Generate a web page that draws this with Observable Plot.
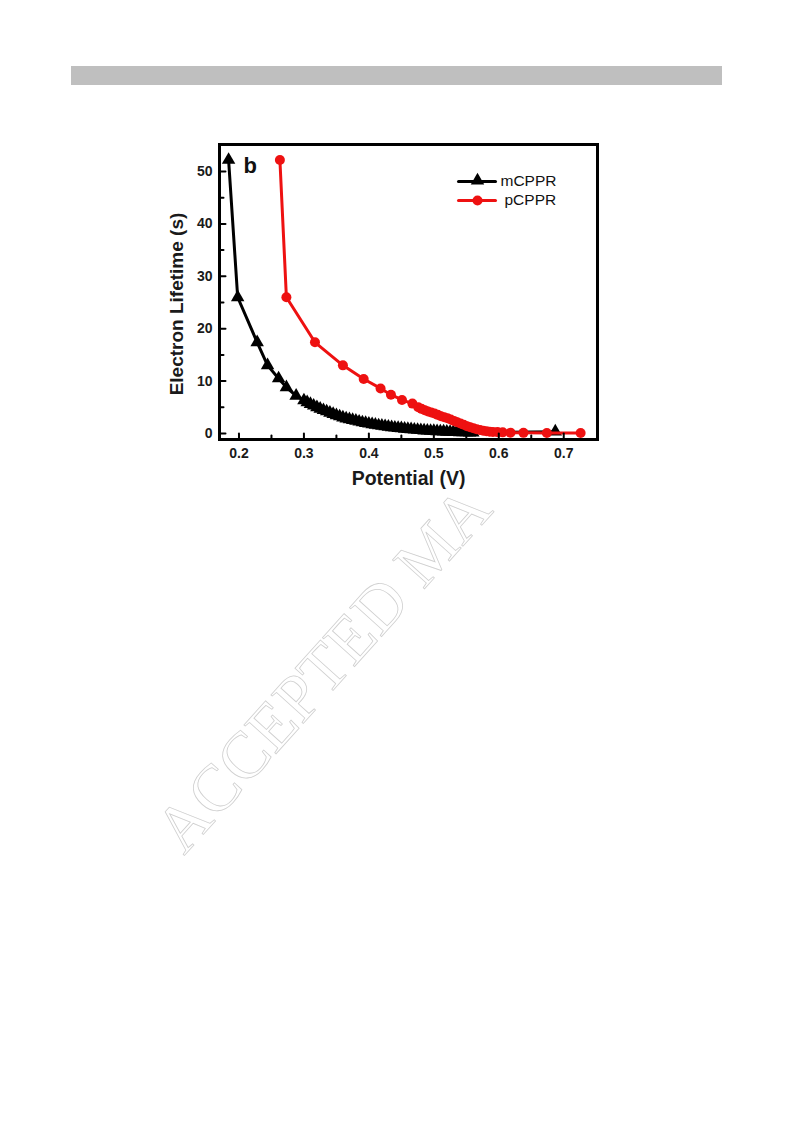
<!DOCTYPE html>
<html>
<head>
<meta charset="utf-8">
<script src="https://cdn.jsdelivr.net/npm/d3@7"></script>
<script src="https://cdn.jsdelivr.net/npm/@observablehq/plot@0.6"></script>
<style>
  html, body { margin: 0; padding: 0; background: #fff; }
  #page { position: relative; width: 793px; height: 1123px; overflow: hidden; font-family: "Liberation Sans", Arial, sans-serif; }
  #bar { position: absolute; left: 71px; top: 66px; width: 651px; height: 19px; background: #bfbfbf; }
  #chart { position: absolute; left: 0; top: 100px; }
  #wm { position: absolute; left: 0; top: 0; }
</style>
</head>
<body>
<div id="page">
  <div id="bar"></div>
  <svg id="wm" width="793" height="1123">
    <text x="0" y="0" transform="translate(184,856) rotate(-48)" font-family="Liberation Serif, Times New Roman, serif" font-size="66" fill="none" stroke="#cfcfcf" stroke-width="0.8">ACCEPTED MA</text>
  </svg>
  <div id="chart"></div>
</div>
<script>
// ---- data ----
const mPotential = [0.184, 0.198, 0.228, 0.244, 0.261, 0.273, 0.288,
  0.300, 0.305, 0.310, 0.315, 0.320, 0.325, 0.330, 0.335, 0.340, 0.345,
  0.350, 0.355, 0.360, 0.365, 0.370, 0.375, 0.380, 0.385, 0.390, 0.395,
  0.400, 0.405, 0.410, 0.415, 0.420, 0.425, 0.430, 0.435, 0.440, 0.445,
  0.450, 0.455, 0.460, 0.465, 0.470, 0.475, 0.480, 0.485, 0.490, 0.495,
  0.500, 0.505, 0.510, 0.515, 0.520, 0.525, 0.530, 0.535, 0.540, 0.545,
  0.550, 0.555, 0.560, 0.687];
const mLifetime = [52.2, 26.0, 17.4, 13.0, 10.5, 8.8, 7.2,
  6.3, 5.95, 5.6, 5.3, 5.0, 4.7, 4.45, 4.2, 3.95, 3.7,
  3.45, 3.25, 3.05, 2.85, 2.7, 2.55, 2.4, 2.25, 2.1, 1.98,
  1.86, 1.75, 1.64, 1.54, 1.45, 1.36, 1.27, 1.19, 1.11, 1.04,
  0.97, 0.9, 0.84, 0.78, 0.72, 0.67, 0.62, 0.57, 0.53, 0.49,
  0.45, 0.41, 0.38, 0.35, 0.32, 0.29, 0.27, 0.25, 0.23, 0.21,
  0.19, 0.17, 0.15, 0.35];
const pPotential = [0.263, 0.273, 0.317, 0.360, 0.392, 0.418, 0.434, 0.451, 0.467, 0.476,
  0.481, 0.486, 0.491, 0.496, 0.501, 0.506, 0.511, 0.516, 0.521, 0.526,
  0.531, 0.536, 0.541, 0.546, 0.551, 0.556, 0.561, 0.566, 0.571, 0.576,
  0.581, 0.586, 0.591, 0.598, 0.606, 0.618, 0.638, 0.674, 0.726];
const pLifetime = [52.2, 26.0, 17.4, 13.0, 10.4, 8.6, 7.4, 6.4, 5.7, 5.0,
  4.7, 4.45, 4.2, 4.0, 3.8, 3.55, 3.3, 3.1, 2.9, 2.65,
  2.4, 2.15, 1.9, 1.65, 1.4, 1.2, 1.0, 0.82, 0.66, 0.52,
  0.42, 0.35, 0.3, 0.26, 0.21, 0.16, 0.12, 0.1, 0.1];
const xTicks = [0.2, 0.3, 0.4, 0.5, 0.6, 0.7];
const xMinorTicks = [0.25, 0.35, 0.45, 0.55, 0.65];
const yTicks = [0, 10, 20, 30, 40, 50];
const yMinorTicks = [5, 15, 25, 35, 45];
const seriesNames = ["mCPPR", "pCPPR"];
const seriesColors = ["#000000", "#ee1111"];
const panelLabel = "b";
const xLabel = "Potential (V)";
const yLabel = "Electron Lifetime (s)";

const mData = mPotential.map((x, i) => ({x, y: mLifetime[i]}));
const pData = pPotential.map((x, i) => ({x, y: pLifetime[i]}));

const lineShape = { draw(context, l) { context.moveTo(0, 0); context.lineTo(0, -l); } };

const chart = Plot.plot({
  width: 793,
  height: 420,
  marginLeft: 219,
  marginRight: 196,
  marginTop: 44,
  marginBottom: 81,
  style: { fontFamily: "'Liberation Sans', Arial, sans-serif", background: "transparent" },
  x: { domain: [0.170, 0.752] },
  y: { domain: [-1.15, 55.15] },
  marks: [
    // data
    Plot.line(mData, { x: "x", y: "y", stroke: seriesColors[0], strokeWidth: 3 }),
    Plot.dot(mData, { x: "x", y: "y", symbol: "triangle", r: 5, fill: seriesColors[0] }),
    Plot.line(pData, { x: "x", y: "y", stroke: seriesColors[1], strokeWidth: 3 }),
    Plot.dot(pData, { x: "x", y: "y", symbol: "circle", r: 5, fill: seriesColors[1] }),
    // inward ticks
    Plot.vector(xTicks, { x: d => d, frameAnchor: "bottom", anchor: "start", length: 6, rotate: 0, shape: lineShape, stroke: "#000", strokeWidth: 2 }),
    Plot.vector(xMinorTicks, { x: d => d, frameAnchor: "bottom", anchor: "start", length: 4, rotate: 0, shape: lineShape, stroke: "#000", strokeWidth: 2 }),
    Plot.vector(yTicks, { y: d => d, frameAnchor: "left", anchor: "start", length: 6, rotate: 90, shape: lineShape, stroke: "#000", strokeWidth: 2 }),
    Plot.vector(yMinorTicks, { y: d => d, frameAnchor: "left", anchor: "start", length: 4, rotate: 90, shape: lineShape, stroke: "#000", strokeWidth: 2 }),
    // axes (labels only)
    Plot.axisX(xTicks, { tickSize: 0, tickPadding: 9, fontSize: 14, fontWeight: "bold", fill: "#1a1a1a", tickFormat: d3.format(".1f"), label: null }),
    Plot.axisY(yTicks, { tickSize: 0, tickPadding: 7, fontSize: 14, fontWeight: "bold", fill: "#1a1a1a", label: null }),
    Plot.text([xLabel], { frameAnchor: "bottom", dy: 45, fontSize: 19.5, fontWeight: "bold", fill: "#1a1a1a" }),
    Plot.text([yLabel], { frameAnchor: "left", textAnchor: "middle", dx: -43, dy: 12, rotate: -90, fontSize: 19, fontWeight: "bold", fill: "#1a1a1a" }),
    // frame
    Plot.frame({ stroke: "#000", strokeWidth: 3 }),
    // panel label
    Plot.text([panelLabel], { frameAnchor: "top-left", dx: 24, dy: 21, textAnchor: "start", lineAnchor: "middle", fontSize: 22, fontWeight: "bold", fill: "#111" }),
    // legend
    Plot.vector([seriesNames[0]], { frameAnchor: "top-left", dx: 239, dy: 37, anchor: "start", length: 37, rotate: 90, shape: lineShape, stroke: seriesColors[0], strokeWidth: 3 }),
    Plot.dot([seriesNames[0]], { frameAnchor: "top-left", dx: 258, dy: 36, symbol: "triangle", r: 5, fill: seriesColors[0] }),
    Plot.text([seriesNames[0]], { frameAnchor: "top-left", dx: 281, dy: 37, textAnchor: "start", lineAnchor: "middle", fontSize: 15.5, fill: "#111" }),
    Plot.vector([seriesNames[1]], { frameAnchor: "top-left", dx: 239, dy: 56, anchor: "start", length: 37, rotate: 90, shape: lineShape, stroke: seriesColors[1], strokeWidth: 3 }),
    Plot.dot([seriesNames[1]], { frameAnchor: "top-left", dx: 258, dy: 56, symbol: "circle", r: 5, fill: seriesColors[1] }),
    Plot.text([seriesNames[1]], { frameAnchor: "top-left", dx: 285, dy: 56, textAnchor: "start", lineAnchor: "middle", fontSize: 15.5, fill: "#111" })
  ]
});
document.getElementById("chart").appendChild(chart);
</script>
</body>
</html>
